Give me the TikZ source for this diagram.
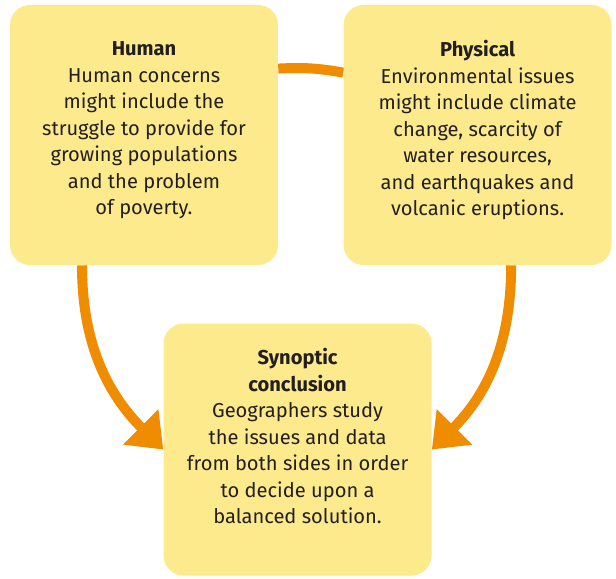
\documentclass[tikz,border=0pt]{standalone}
\usepackage{fontspec}
\setmainfont{Fira Sans}
\usetikzlibrary{positioning, arrows.meta, backgrounds}
\definecolor{boxyellow}{RGB}{253,234,140}
\definecolor{linkorange}{RGB}{239,140,0}
\definecolor{inkgray}{RGB}{35,31,32}

\begin{document}
\begin{tikzpicture}[
  font=\fontsize{14.3}{18.85}\selectfont,
  topic/.style={fill=boxyellow, rounded corners=0.5cm, align=center, text=inkgray,
    minimum width=6.7cm, minimum height=6.5cm, inner sep=4pt},
  link/.style={-{Triangle[width=1.2cm, length=0.8cm]}, line width=0.25cm, draw=linkorange},
  band/.style={line width=0.25cm, draw=linkorange}
]
\useasboundingbox (-3.6,-11.1) rectangle (11.8,3.375);

% trailing empty lines lift the text a little, as in the original
\node[topic] (human) {{\bfseries Human}\\
  Human concerns\\
  might include the\\
  struggle to provide for\\
  growing populations\\
  and the problem\\
  of poverty.\\[-9pt]\mbox{}};

\node[topic, right=1.625cm of human] (physical) {{\bfseries Physical}\\
  Environmental issues\\
  might include climate\\
  change, scarcity of\\
  water resources,\\
  and earthquakes and\\
  volcanic eruptions.\\[-9pt]\mbox{}};

\node[topic, minimum height=6.3cm, below right=1.45cm and -2.875cm of human.south east]
  (synoptic) {{\bfseries Synoptic}\\
  {\bfseries conclusion}\\
  Geographers study\\
  the issues and data\\
  from both sides in order\\
  to decide upon a\\
  balanced solution.\\[0pt]\mbox{}};

\begin{scope}[on background layer]
\draw[band] ([yshift=1.66cm]human.east) to[out=3, in=170] ([yshift=1.56cm]physical.west);
\draw[link] ([xshift=-1.55cm]human.south) to[out=-90, in=135] (synoptic.west);
\draw[link] ([xshift=0.84cm]physical.south) to[out=-90, in=45] (synoptic.east);
\end{scope}

\end{tikzpicture}
\end{document}
